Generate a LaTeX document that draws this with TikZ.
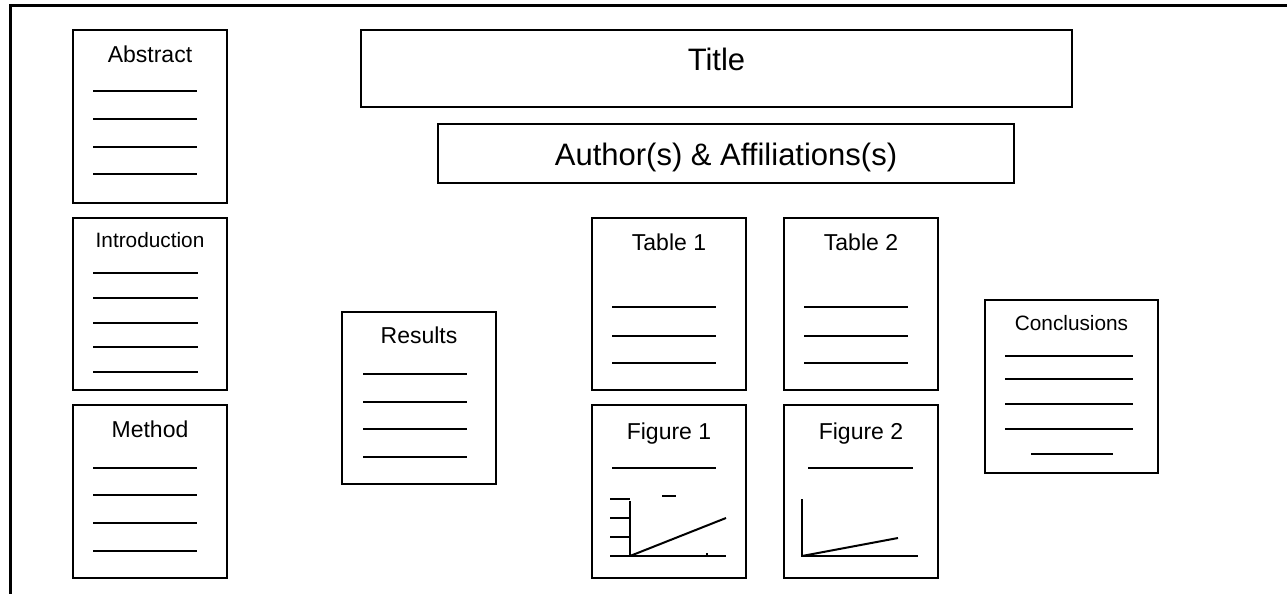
\documentclass[tikz,border=0pt]{standalone}
\usepackage{fontspec}
\setmainfont{Liberation Sans}
\usetikzlibrary{positioning}
\tikzstyle{panel} = [draw, fill=white, rectangle, line width=1pt, inner sep=0pt, minimum width=77pt, minimum height=86.25pt]
\tikzstyle{banner} = [draw, fill=white, rectangle, line width=1pt, inner sep=0pt]
\tikzstyle{head} = [anchor=base, inner sep=0pt, font=\fontsize{11.5}{13}\selectfont]
\tikzstyle{smallhead} = [head, font=\fontsize{10.4}{12}\selectfont]
\tikzstyle{bighead} = [head, font=\fontsize{15.5}{18}\selectfont]
\tikzstyle{rule} = [line width=0.6pt]
\tikzstyle{axis} = [line width=1pt]

\begin{document}
\begin{tikzpicture}[x=0.5pt, y=-0.5pt]
  \useasboundingbox (0,0) rectangle (1287,594);
  \draw[line width=1.5pt] (10,594) -- (10,5) -- (1287,5);

  % left column
  \node[panel] (abstract) at (150,116.5) {};
  \node[panel, below of=abstract, node distance=93.75pt] (intro) {};
  \node[panel, below of=intro, node distance=93.75pt] (method) {};
  \node[head] (abstracthead) at ([yshift=-16.5pt]abstract.north) {Abstract};
  \node[smallhead] (introhead) at ([yshift=-15.5pt]intro.north) {Introduction};
  \node[head] (methodhead) at ([yshift=-16.5pt]method.north) {Method};
  \foreach \y in {91,119,147,174} \draw[rule] (93,\y) -- (197,\y);
  \foreach \y in {273,298,323,347,372} \draw[rule] (93,\y) -- (198,\y);
  \foreach \y in {468,495,523,551} \draw[rule] (93,\y) -- (197,\y);

  % title and authors
  \node[banner, minimum width=355.5pt, minimum height=38.5pt] (title) at (716.5,68.5) {};
  \node[bighead] (titlehead) at ([yshift=-20.5pt]title.north) {Title};
  \node[banner, minimum width=288pt, minimum height=29.5pt] (authors) at (726,153.5) {};
  \node[bighead] (authorshead) at ([yshift=-21pt]authors.north) {Author(s) \& Affiliations(s)};

  % results
  \node[panel] (results) at (419,398) {};
  \node[head] (resultshead) at ([yshift=-16.5pt]results.north) {Results};
  \foreach \y in {374,402,429,457} \draw[rule] (363,\y) -- (467,\y);

  % tables and figures
  \node[panel] (table1) at (669,304) {};
  \node[panel, right of=table1, node distance=96pt] (table2) {};
  \node[panel, below of=table1, node distance=93.75pt] (figure1) {};
  \node[panel, right of=figure1, node distance=96pt] (figure2) {};
  \node[head] (table1head) at ([yshift=-17pt]table1.north) {Table 1};
  \node[head] (table2head) at ([yshift=-17pt]table2.north) {Table 2};
  \node[head] (figure1head) at ([yshift=-17.5pt]figure1.north) {Figure 1};
  \node[head] (figure2head) at ([yshift=-17.5pt]figure2.north) {Figure 2};
  \foreach \y in {307,336,363} {
    \draw[rule] (612,\y) -- (716,\y);
    \draw[rule] (804,\y) -- (908,\y);
  }
  \draw[rule] (612,468) -- (716,468);
  \draw[rule] (808,468) -- (913,468);
  \draw[axis] (630,501) -- (630,556);
  \draw[axis] (610,556) -- (726,556);
  \foreach \y in {499,518,537} \draw[axis] (610,\y) -- (630,\y);
  \draw[axis] (662,496) -- (676,496);
  \draw[axis] (630,556) -- (726,518);
  \draw[rule] (707,553) -- (707,556);
  \draw[axis] (802,499) -- (802,556) -- (918,556);
  \draw[axis] (802,556) -- (898,538);

  % conclusions
  \node[panel, minimum width=86.5pt, minimum height=86.5pt] (conclusions) at (1071.5,386.5) {};
  \node[smallhead] (conclusionshead) at ([yshift=-15.5pt]conclusions.north) {Conclusions};
  \foreach \y in {356,379,404,429} \draw[rule] (1005,\y) -- (1133,\y);
  \draw[rule] (1031,454) -- (1113,454);
\end{tikzpicture}
\end{document}
